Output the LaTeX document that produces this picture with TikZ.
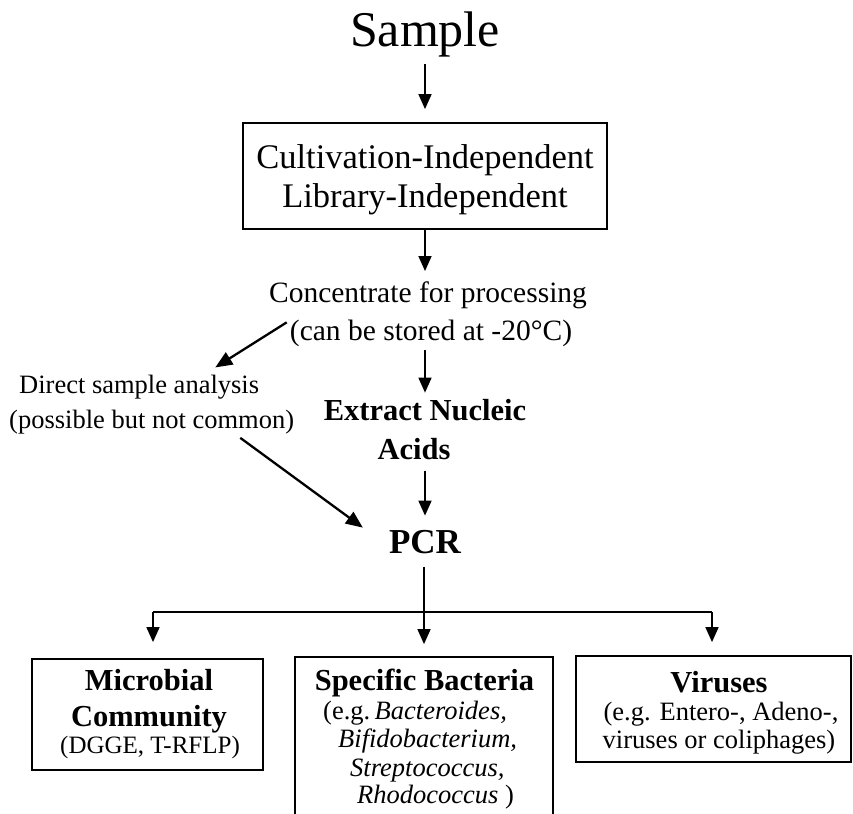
\documentclass[tikz,border=0pt]{standalone}
\usepackage{fontspec}
\setmainfont{Liberation Serif}
\usetikzlibrary{arrows.meta}

\tikzset{
  box/.style={draw, line width=1.8pt, inner sep=0pt},
  txt/.style={inner sep=0pt, anchor=base},
  txtl/.style={inner sep=0pt, anchor=base west},
  big/.style={font=\fontsize{50}{56}\selectfont},
  mid/.style={font=\fontsize{34.5}{40}\selectfont},
  reg/.style={font=\fontsize{29.5}{34}\selectfont},
  small/.style={font=\fontsize{26.5}{30}\selectfont},
  head/.style={font=\bfseries\fontsize{30.5}{34}\selectfont},
  flow/.style={line width=1.6pt, -{Triangle[width=13pt,length=15pt]}},
  slant/.style={line width=2.3pt, -{Triangle[width=14pt,length=17pt]}},
  branch/.style={line width=1.6pt}
}

\begin{document}
\begin{tikzpicture}[x=1pt, y=-1pt]
\useasboundingbox (0,0) rectangle (853,813);
\fill[white] (0,0) rectangle (853,813);
\clip (0,0) rectangle (853,813);

% top of the flow
\node[txt, big] (sample) at (425,47) {Sample};
\node[box, minimum width=364pt, minimum height=106pt] (box1) at (425,176) {};
\node[txt, mid] (cult) at (425,168) {Cultivation-Independent};
\node[txt, mid] (lib) at (425,207) {Library-Independent};

\node[txt, reg] (conc1) at (428,302) {Concentrate for processing};
\node[txt, reg] (conc2) at (431,340) {(can be stored at -20°C)};

\node[txtl, small] (direct1) at (19,393) {Direct sample analysis};
\node[txtl, small] (direct2) at (9,428) {(possible but not common)};

\node[txt, head] (extract1) at (425,420) {Extract Nucleic};
\node[txt, head] (acids) at (414,459) {Acids};

\node[txt, font=\bfseries\fontsize{35}{40}\selectfont] (pcr) at (425,553) {PCR};

% result boxes
\node[box, minimum width=231pt, minimum height=111pt] (mic) at (147.5,714.5) {};
\node[box, minimum width=258pt, minimum height=173pt] (spec) at (424,743.5) {};
\node[box, minimum width=275pt, minimum height=106pt] (vir) at (713.5,709) {};

\node[txt, head] (mic1) at (149,690) {Microbial};
\node[txt, head] (mic2) at (149,726) {Community};
\node[txt, font=\fontsize{25}{30}\selectfont] (mic3) at (150,753) {(DGGE, T-RFLP)};

\node[txt, head] (spec1) at (424.5,690) {Specific Bacteria};
\node[txtl, small] (spec2) at (323,719) {(e.g.\,\textit{Bacteroides,}};
\node[txtl, small] (spec3) at (338,747) {\textit{Bifidobacterium,}};
\node[txtl, small] (spec4) at (350,776) {\textit{Streptococcus,}};
\node[txtl, small] (spec5) at (357,803) {\textit{Rhodococcus} )};

\node[txt, head] (vir1) at (719,692) {Viruses};
\node[txt, small] (vir2) at (721,720) {(e.g. Entero-, Adeno-,};
\node[txt, small] (vir3) at (719,748) {viruses or coliphages)};

% connectors
\draw[flow, shorten <=6pt, shorten >=13pt] (box1.north |- sample.south) -- (box1.north);
\draw[flow, shorten >=10pt] (box1.south) -- (box1.south |- conc1.north);
\draw[flow, shorten <=4pt, shorten >=6pt] (extract1.north |- conc2.south) -- (extract1.north);
\draw[flow, shorten <=11pt, shorten >=14pt] (pcr.north |- acids.south) -- (pcr.north);

\draw[slant] ([shift={(-3,3)}]conc2.north west) -- ([shift={(-44,-7)}]direct1.north east);
\draw[slant] ([shift={(-54,4)}]direct2.south east) -- ([shift={(-26,-2)}]pcr.north west);

\coordinate (hub) at (424,612);
\coordinate (hl) at (153,612);
\coordinate (hr) at (712,612);
\draw[branch, shorten <=13pt] (pcr.south -| hub) -- (hub);
\draw[branch] (hl) -- (hr);
\draw[flow, shorten >=16pt] (hl) -- (hl |- mic.north);
\draw[flow, shorten >=12pt] (hub) -- (hub |- spec.north);
\draw[flow, shorten >=13pt] (hr) -- (hr |- vir.north);
\end{tikzpicture}
\end{document}
